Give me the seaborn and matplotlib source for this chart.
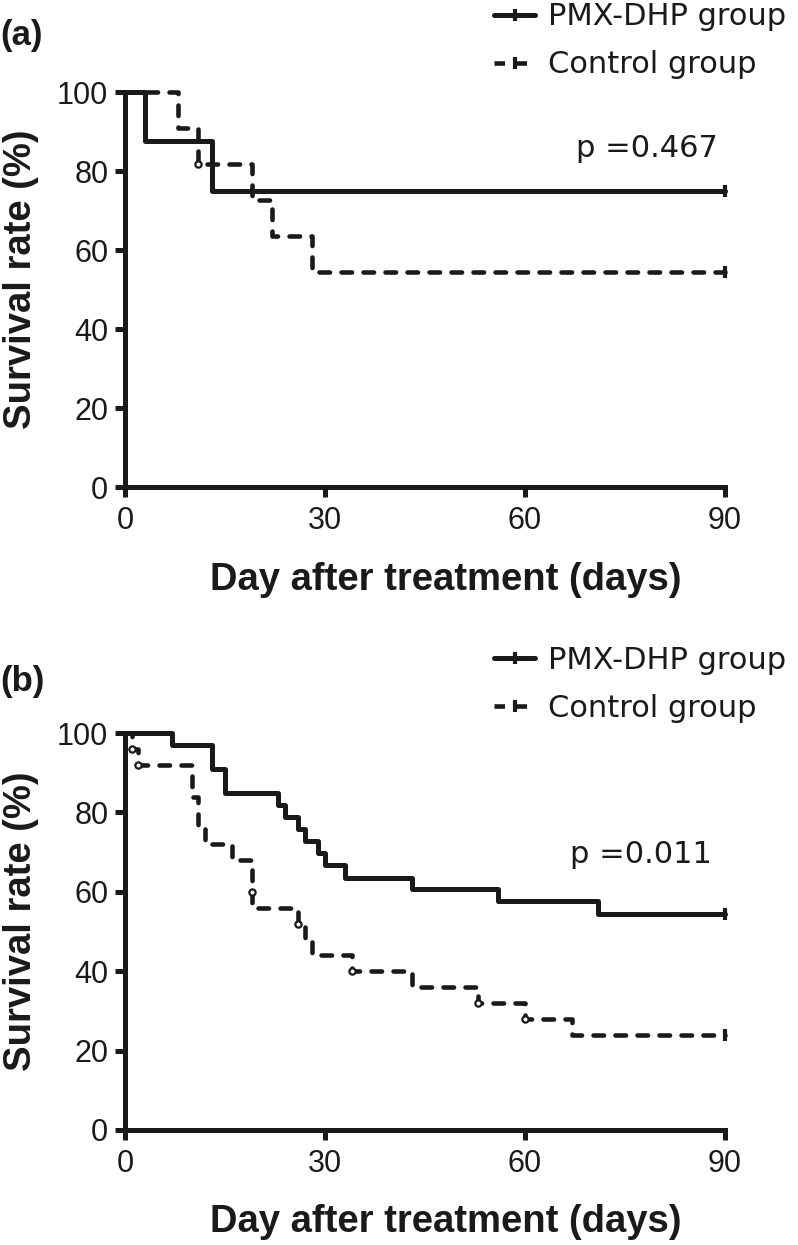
import seaborn as sns
import matplotlib.pyplot as plt
import pandas as pd
from matplotlib.lines import Line2D

# ---- data ----
groups = ["PMX-DHP group", "Control group"]
x_ticks = [0, 30, 60, 90]
y_ticks = [0, 20, 40, 60, 80, 100]

# panel (a)
a_pmx_days = [0, 3, 13, 90]
a_pmx_surv = [100, 87.5, 75, 75]
a_ctrl_days = [0, 8, 11, 19, 22, 28, 90]
a_ctrl_surv = [100, 90.9, 81.8, 72.7, 63.6, 54.5, 54.5]
a_ctrl_cens_days = [11]
a_ctrl_cens_surv = [81.8]
a_p_text = "p =0.467"

# panel (b)
b_pmx_days = [0, 7, 13, 15, 23, 24, 26, 27, 29, 30, 33, 43, 56, 71, 90]
b_pmx_surv = [100, 97.0, 90.9, 84.8, 81.8, 78.8, 75.8, 72.7, 69.7, 66.7,
              63.6, 60.6, 57.6, 54.5, 54.5]
b_ctrl_days = [0, 1, 2, 10, 11, 12, 16, 19, 26, 27, 28, 34, 43, 53, 60, 67, 90]
b_ctrl_surv = [100, 96, 92, 84, 76, 72, 68, 56, 52, 48, 44, 40, 36, 32, 28, 24, 24]
b_ctrl_cens_days = [1, 2, 19, 26, 34, 53, 60]
b_ctrl_cens_surv = [96, 92, 60, 52, 40, 32, 28]
b_p_text = "p =0.011"

# ---- style ----
sns.set_style("ticks")
plt.rcParams['font.family'] = ['DejaVu Sans']
INK = '#1a1a1a'
LW = 3.6
DASH = (0, (2.3, 2.5))

fig = plt.figure(figsize=(7.98, 12.45), dpi=100)
ax_a = fig.add_axes([0.1566, 0.6088, 0.7519, 0.3173])
ax_b = fig.add_axes([0.1566, 0.0924, 0.7519, 0.3188])


def draw_panel(ax, pmx_d, pmx_s, ctrl_d, ctrl_s, cens_d, cens_s, p_text, p_xy, xlab_y):
    pmx = pd.DataFrame({'day': pmx_d, 'surv': pmx_s})
    ctrl = pd.DataFrame({'day': ctrl_d, 'surv': ctrl_s})
    sns.lineplot(data=ctrl, x='day', y='surv', ax=ax, color=INK, lw=3.3,
                 linestyle=DASH, dash_capstyle='round', drawstyle='steps-post',
                 errorbar=None, clip_on=False, zorder=3)
    sns.lineplot(data=pmx, x='day', y='surv', ax=ax, color=INK, lw=LW,
                 drawstyle='steps-post', errorbar=None, clip_on=False, zorder=4)
    # censor ticks at end of follow-up
    ax.plot([pmx_d[-1]], [pmx_s[-1]], marker='|', ms=9, mew=3, color=INK,
            ls='', clip_on=False, zorder=5)
    ax.plot([ctrl_d[-1]], [ctrl_s[-1]], marker='|', ms=9, mew=3, color=INK,
            ls='', clip_on=False, zorder=5)
    # censored marks along control curve
    ax.plot(cens_d, cens_s, marker='o', ms=4.5, mew=1.6, mfc='white', mec=INK,
            ls='', clip_on=False, zorder=5)

    ax.set_xlim(0, 90)
    ax.set_ylim(0, 100)
    ax.set_xticks(x_ticks)
    ax.set_yticks(y_ticks)
    ax.tick_params(axis='both', length=7, width=LW, color=INK,
                   labelsize=22, labelcolor=INK)
    for t in ax.get_xticklabels() + ax.get_yticklabels():
        t.set_family('Liberation Sans')
    ax.tick_params(axis='x', pad=7)
    ax.tick_params(axis='y', pad=5)
    sns.despine(ax=ax)
    for s in ['left', 'bottom']:
        ax.spines[s].set_linewidth(LW)
        ax.spines[s].set_color(INK)
    ax.set_xlabel('Day after treatment (days)', family='Liberation Sans',
                  fontsize=27.5, fontweight='bold', color=INK)
    ax.set_ylabel('Survival rate (%)', family='Liberation Sans',
                  fontsize=27.5, fontweight='bold', color=INK)
    ax.xaxis.set_label_coords(0.535, xlab_y)
    ax.xaxis.label.set_va('center')
    ax.yaxis.set_label_coords(-0.143, 0.525)
    ax.text(p_xy[0], p_xy[1], p_text, transform=ax.transAxes, ha='right',
            va='center', fontsize=22, color=INK)

    handles = [
        Line2D([], [], color=INK, lw=LW, marker='|', ms=9, mew=3),
        Line2D([], [], color=INK, lw=3.3, linestyle=DASH, marker='|', ms=9, mew=3),
    ]
    return handles


h = draw_panel(ax_a, a_pmx_days, a_pmx_surv, a_ctrl_days, a_ctrl_surv,
               a_ctrl_cens_days, a_ctrl_cens_surv, a_p_text, (0.988, 0.858), -0.235)
draw_panel(ax_b, b_pmx_days, b_pmx_surv, b_ctrl_days, b_ctrl_surv,
           b_ctrl_cens_days, b_ctrl_cens_surv, b_p_text, (0.978, 0.693), -0.232)

for top in [0.998, 0.481]:
    fig.legend(h, groups, loc='upper left', bbox_to_anchor=(0.619, top),
               frameon=False, fontsize=22, handlelength=1.35,
               handletextpad=0.42, labelspacing=0.62, borderpad=0,
               borderaxespad=0, numpoints=1, labelcolor=INK)

fig.text(0.0, 1 - 35 / 1245, '(a)', family='Liberation Sans', fontsize=25,
         fontweight='bold', va='center', ha='left', color=INK)
fig.text(0.0, 1 - 682 / 1245, '(b)', family='Liberation Sans', fontsize=25,
         fontweight='bold', va='center', ha='left', color=INK)

fig.savefig('out.png', dpi=100)
